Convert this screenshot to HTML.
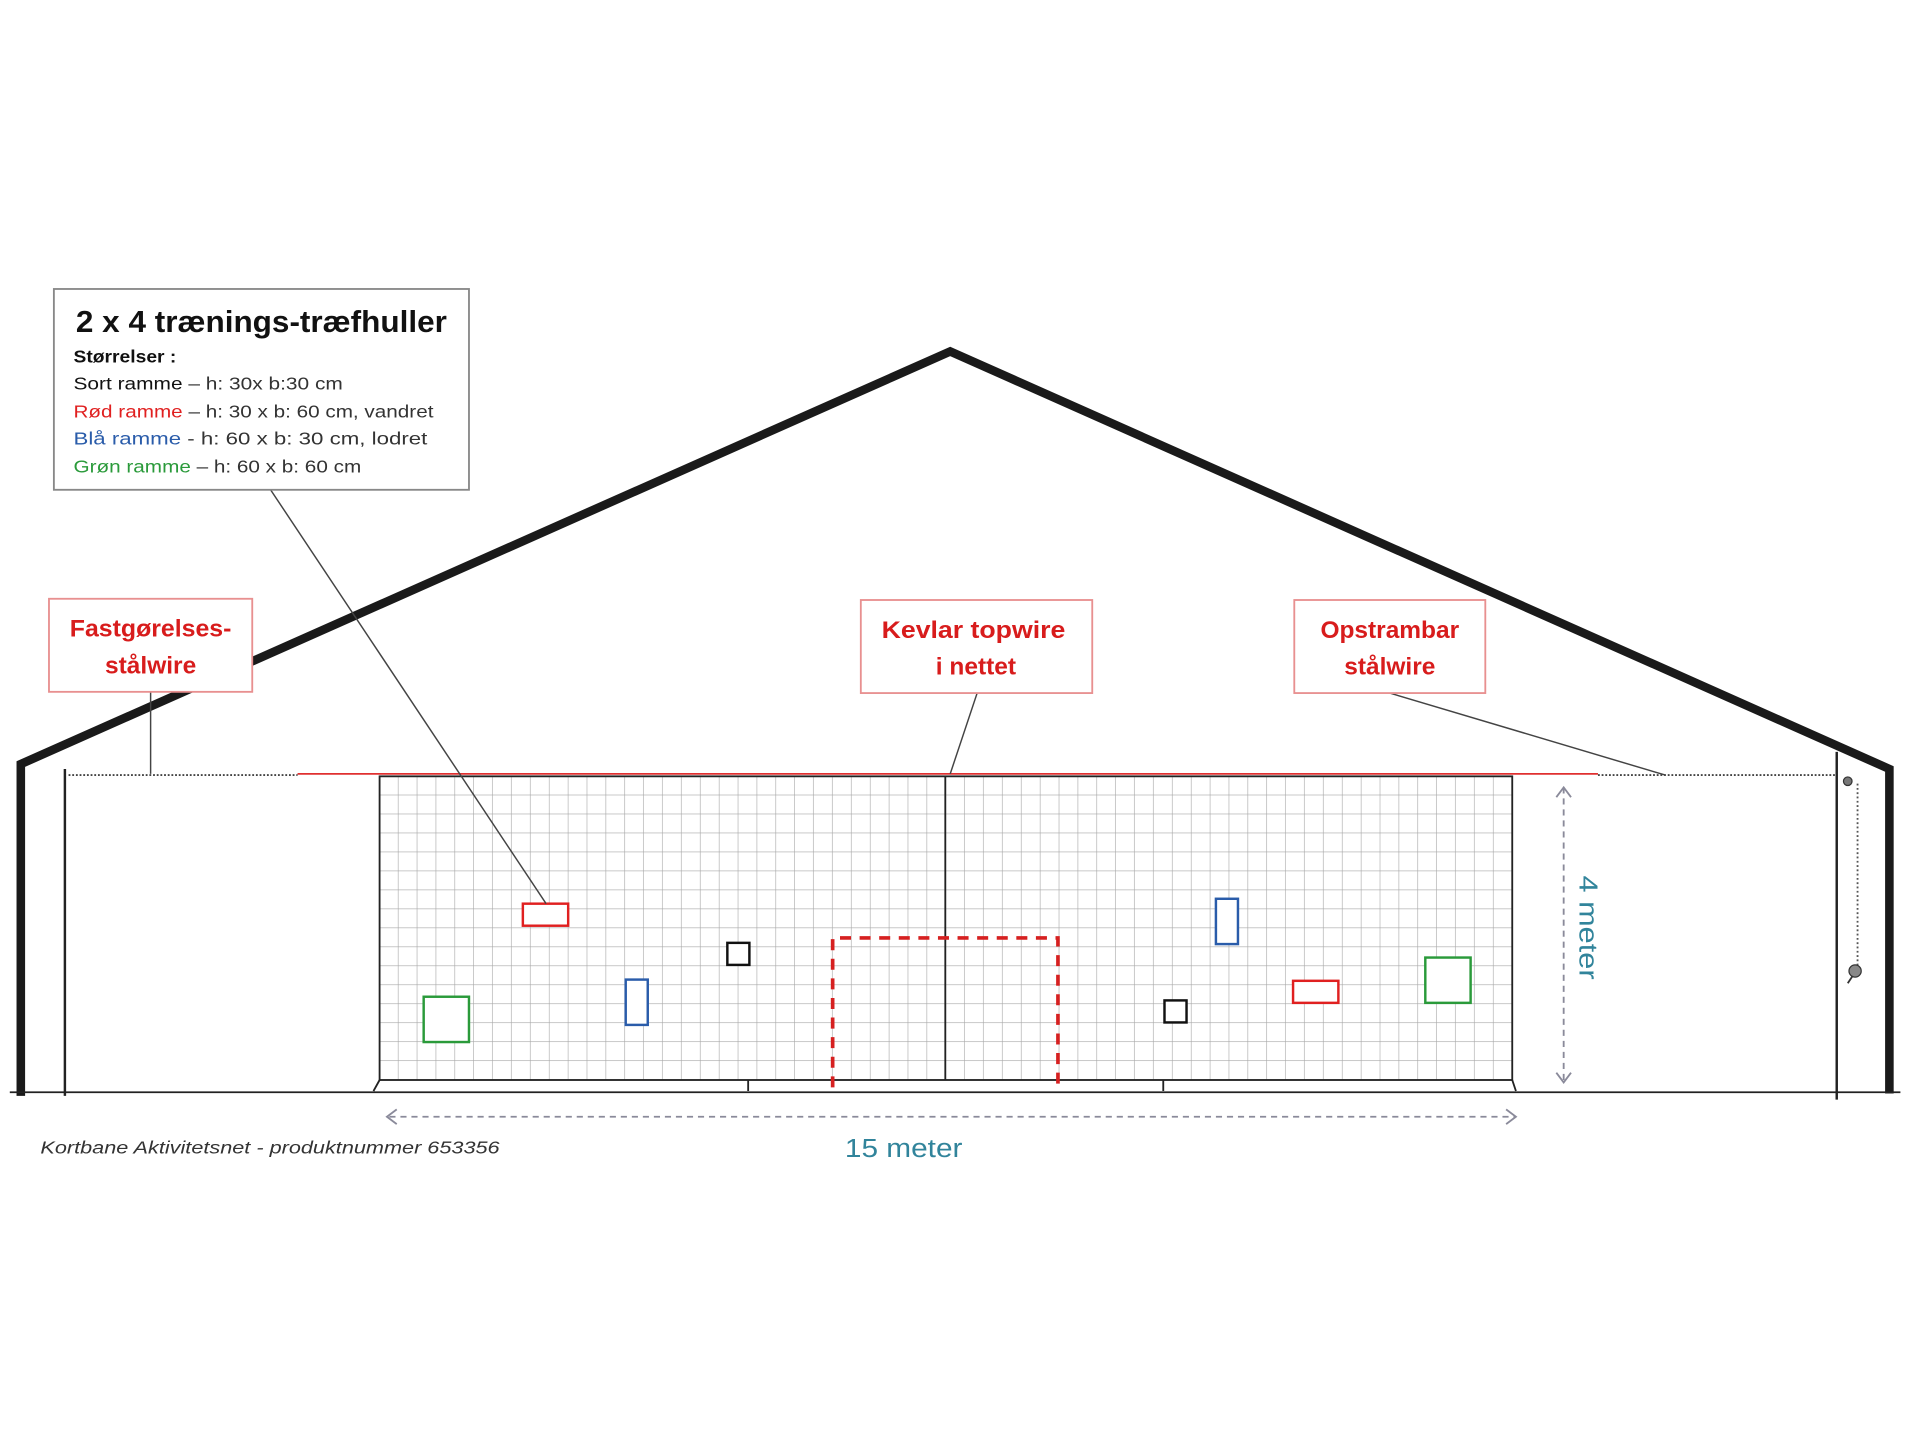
<!DOCTYPE html>
<html><head><meta charset="utf-8"><style>
html,body{margin:0;padding:0;background:#fff;}
svg{display:block;}
text{font-family:"Liberation Sans",sans-serif;}
</style></head><body>
<svg width="1920" height="1440" viewBox="0 0 1568 1176" xmlns="http://www.w3.org/2000/svg">
<defs>
<pattern id="g" x="310" y="634" width="15.42" height="15.5" patternUnits="userSpaceOnUse">
<path d="M15.42 0V15.5M0 15.5H15.42" stroke="#a8a8a8" stroke-width="1" fill="none"/>
</pattern>
</defs>
<rect width="1568" height="1176" fill="#fff"/>
<polyline points="17,895 17,624 776,287 1543,628 1543,893" fill="none" stroke="#1a1a1a" stroke-width="7" stroke-linejoin="miter"/>
<line x1="8" y1="892" x2="1552" y2="892" stroke="#222" stroke-width="1.5"/>
<line x1="53" y1="628" x2="53" y2="895" stroke="#222" stroke-width="2"/>
<line x1="1500" y1="614" x2="1500" y2="898" stroke="#222" stroke-width="2"/>
<line x1="56" y1="633" x2="243" y2="633" stroke="#444" stroke-width="1.5" stroke-dasharray="1.5,1.5"/>
<line x1="243" y1="632" x2="1305" y2="632" stroke="#e03030" stroke-width="1.5"/>
<line x1="1305" y1="633" x2="1500" y2="633" stroke="#444" stroke-width="1.5" stroke-dasharray="1.5,1.5"/>
<rect x="310" y="634" width="925" height="248" fill="url(#g)"/>
<rect x="310" y="634" width="925" height="248" fill="none" stroke="#222" stroke-width="1.5"/>
<line x1="772" y1="634" x2="772" y2="882" stroke="#222" stroke-width="1.5"/>
<path d="M310 882L305 891M611 882V891M950 882V891M1235 882L1238 891" stroke="#222" stroke-width="1.5" fill="none"/>
<path d="M680 888V766H864V888" fill="none" stroke="#d62020" stroke-width="3" stroke-dasharray="9,7"/>
<g fill="#fff" stroke-width="2">
<rect x="427" y="738" width="37" height="18" stroke="#e02020"/>
<rect x="594" y="770" width="18" height="18" stroke="#111"/>
<rect x="511" y="800" width="18" height="37" stroke="#2a5caa"/>
<rect x="346" y="814" width="37" height="37" stroke="#2a9a3a"/>
<rect x="993" y="734" width="18" height="37" stroke="#2a5caa"/>
<rect x="951" y="817" width="18" height="18" stroke="#111"/>
<rect x="1056" y="801" width="37" height="18" stroke="#e02020"/>
<rect x="1164" y="782" width="37" height="37" stroke="#2a9a3a"/>
</g>
<g stroke="#444" stroke-width="1.2" fill="none">
<line x1="213" y1="388" x2="446" y2="738"/>
<line x1="123" y1="565" x2="123" y2="632"/>
<line x1="798" y1="566" x2="776" y2="632"/>
<line x1="1135" y1="566" x2="1360" y2="633"/>
</g>
<rect x="44" y="236" width="339" height="164" fill="#fff" stroke="#888" stroke-width="1.5"/>
<text x="62" y="271" font-size="25" font-weight="bold" fill="#111" textLength="303" lengthAdjust="spacingAndGlyphs">2 x 4 trænings-træfhuller</text>
<g font-size="14.5" fill="#333">
<text x="60" y="296" font-weight="bold" fill="#111" textLength="84" lengthAdjust="spacingAndGlyphs">Størrelser :</text>
<text x="60" y="318" textLength="220" lengthAdjust="spacingAndGlyphs"><tspan fill="#111">Sort ramme</tspan> – h: 30x b:30 cm</text>
<text x="60" y="341" textLength="294" lengthAdjust="spacingAndGlyphs"><tspan fill="#e02020">Rød ramme</tspan> – h: 30 x b: 60 cm, vandret</text>
<text x="60" y="363" textLength="289" lengthAdjust="spacingAndGlyphs"><tspan fill="#2a5caa">Blå ramme</tspan>   -   h: 60 x b: 30 cm, lodret</text>
<text x="60" y="386" textLength="235" lengthAdjust="spacingAndGlyphs"><tspan fill="#2a9a3a">Grøn ramme</tspan> – h: 60 x b: 60 cm</text>
</g>
<g fill="#fff" stroke="#e89090" stroke-width="1.5">
<rect x="40" y="489" width="166" height="76"/>
<rect x="703" y="490" width="189" height="76"/>
<rect x="1057" y="490" width="156" height="76"/>
</g>
<g font-size="20" font-weight="bold" fill="#d81c1c" text-anchor="middle">
<text x="123" y="520" textLength="132" lengthAdjust="spacingAndGlyphs">Fastgørelses-</text><text x="123" y="550">stålwire</text>
<text x="795" y="521" textLength="150" lengthAdjust="spacingAndGlyphs">Kevlar topwire</text><text x="797" y="551">i nettet</text>
<text x="1135" y="521">Opstrambar</text><text x="1135" y="551">stålwire</text>
</g>
<g stroke="#8a8a9a" stroke-width="1.5" fill="none">
<line x1="1277" y1="643" x2="1277" y2="884" stroke-dasharray="5,4"/>
<path d="M1271 651L1277 643L1283 651M1271 876L1277 884L1283 876"/>
<line x1="318" y1="912" x2="1237" y2="912" stroke-dasharray="5,4"/>
<path d="M324 906L316 912L324 918M1230 906L1238 912L1230 918"/>
</g>
<text x="0" y="0" font-size="21" fill="#31849b" transform="translate(1290,715) rotate(90)" textLength="85" lengthAdjust="spacingAndGlyphs">4 meter</text>
<text x="690" y="945" font-size="21" fill="#31849b" textLength="96" lengthAdjust="spacingAndGlyphs">15 meter</text>
<text x="33" y="942" font-size="14.5" font-style="italic" fill="#333" textLength="375" lengthAdjust="spacingAndGlyphs">Kortbane Aktivitetsnet  - produktnummer  653356</text>
<line x1="1517" y1="640" x2="1517" y2="790" stroke="#555" stroke-width="1.5" stroke-dasharray="1.5,2"/>
<circle cx="1509" cy="638" r="3.5" fill="#777" stroke="#333"/>
<circle cx="1515" cy="793" r="5" fill="#888" stroke="#333"/>
<line x1="1513" y1="797" x2="1509" y2="803" stroke="#333" stroke-width="1.5"/>
</svg>
</body></html>
